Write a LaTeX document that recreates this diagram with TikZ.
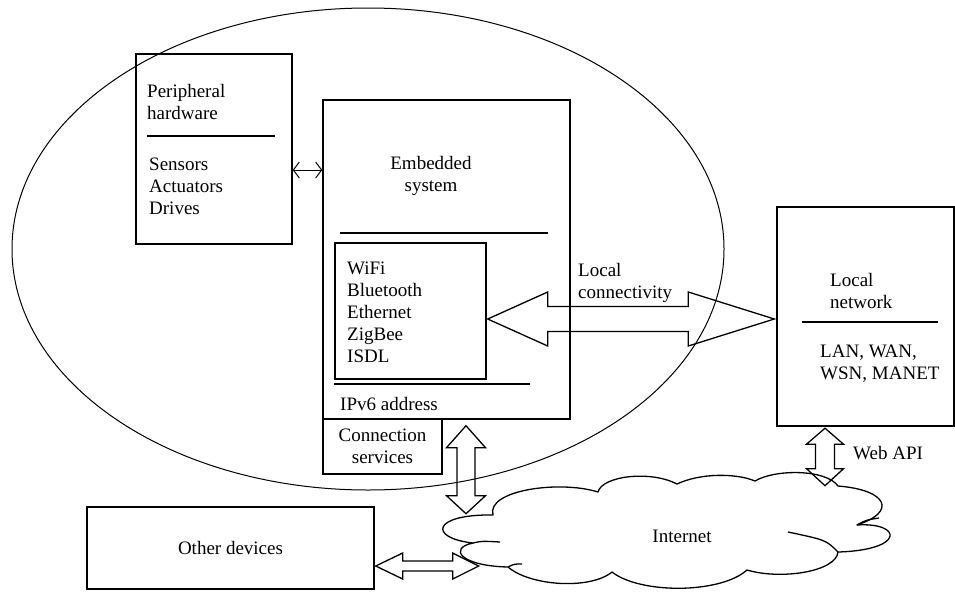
\documentclass[tikz,border=0pt]{standalone}
\usepackage{fontspec}
\setmainfont{Liberation Serif}
\usetikzlibrary{shapes.geometric,calc,arrows.meta}
\newcommand\dblH[6]{%
 \draw[blockarrow] (#1) -- ($(#1)+(#3,-#5)$) -- ($(#1)+(#3,-#6)$) -- ($(#2)+(-#4,-#6)$) -- ($(#2)+(-#4,-#5)$) -- (#2) -- ($(#2)+(-#4,#5)$) -- ($(#2)+(-#4,#6)$) -- ($(#1)+(#3,#6)$) -- ($(#1)+(#3,#5)$) -- cycle;}
\newcommand\dblV[6]{%
 \draw[blockarrow] (#1) -- ($(#1)+(#5,#3)$) -- ($(#1)+(#6,#3)$) -- ($(#2)+(#6,-#4)$) -- ($(#2)+(#5,-#4)$) -- (#2) -- ($(#2)+(-#5,-#4)$) -- ($(#2)+(-#6,-#4)$) -- ($(#1)+(-#6,#3)$) -- ($(#1)+(-#5,#3)$) -- cycle;}
\begin{document}
\begin{tikzpicture}[x=1pt,y=-1pt,
  every node/.style={font=\fontsize{19}{22}\selectfont, inner sep=0pt},
  box/.style={draw, line width=1.4pt, rectangle, inner sep=0pt},
  sep/.style={line width=1.4pt},
  blockarrow/.style={draw, line width=1.3pt, line join=miter},
  txt/.style={align=left, anchor=west}]
\useasboundingbox (0,0) rectangle (955,592);

% scope ellipse
\node[draw, ellipse, line width=1pt, minimum width=712, minimum height=482] (scope) at (368,249) {};

% boxes
\node[box, minimum width=156, minimum height=190] (periph) at (214,149) {};
\node[box, minimum width=247, minimum height=319] (emb) at (446.5,259.5) {};
\node[box, minimum width=151, minimum height=136] (inner) at (410.5,311) {};
\node[box, minimum width=119, minimum height=55] (conn) at (382.5,446.5) {};
\node[box, minimum width=177, minimum height=219] (lnet) at (865.5,316.5) {};
\node[box, minimum width=287, minimum height=82] (other) at (230.5,548) {};

% separators
\draw[sep] (147,136) -- (275,136);
\draw[sep] (340,233) -- (548,233);
\draw[sep] (334,384) -- (530,384);
\draw[sep] (802,322) -- (938,322);

% texts
\node[txt] (tper) at (147,102) {Peripheral\\hardware};
\node[txt] (tsens) at (149,186) {Sensors\\Actuators\\Drives};
\node[align=center] (temb) at (431,176) {Embedded\\system};
\node[txt] (tlist) at (347,312) {WiFi\\Bluetooth\\Ethernet\\ZigBee\\ISDL};
\node[txt] (tipv) at (340,404) {IPv6 address};
\node[align=center] (tconn) at (conn) {Connection\\services};
\node[txt] (tloc) at (578,282.5) {Local\\connectivity};
\node[txt] (tln) at (830,290.5) {Local\\network};
\node[txt] (tlan) at (820,364) {LAN, WAN,\\WSN, MANET};
\node[txt] (tweb) at (853,453) {Web API};
\node (tother) at (other) {Other devices};

% cloud
\draw[line width=1.3pt, fill=white, line join=round]
  (493,515) .. controls (486,490) and (560,480) .. (598,492)
  .. controls (602,476) and (650,470) .. (677,484)
  .. controls (700,473) and (736,473) .. (755,481)
  .. controls (775,469) and (826,469) .. (838,486)
  .. controls (888,490) and (897,512) .. (857,525)
  .. controls (902,522) and (906,550) .. (838,552)
  .. controls (836,572) and (780,580) .. (747,570)
  .. controls (720,594) and (640,594) .. (612,572)
  .. controls (590,590) and (530,586) .. (508,567)
  .. controls (460,566) and (448,548) .. (473,543)
  .. controls (428,538) and (432,514) .. (493,515) -- cycle;
\draw[line width=1.3pt] (473,543) .. controls (482,541) .. (500,542);
\draw[line width=1.3pt] (508,567) .. controls (514,564) .. (522,564);
\draw[line width=1.3pt] (838,552) .. controls (826,540) .. (788,532);
\draw[line width=1.3pt] (857,525) .. controls (866,520) .. (879,518);
\node (internet) at (682,536) {Internet};

% thin arrow periph <-> embedded
\draw[line width=1pt, {Straight Barb[length=6pt,width=16pt]}-{Straight Barb[length=6pt,width=16pt]}] (periph.east |- 0,170) -- (emb.west |- 0,170);

% block arrows
\coordinate (lcL) at ($(inner.east)+(1,8)$);
\coordinate (lcR) at ($(lnet.west)+(-2,2.5)$);
\dblH{lcL}{lcR}{60}{86}{27}{12.5}

\coordinate (ecT) at ($(emb.south)+(19.5,6)$);
\coordinate (ecB) at ($(emb.south)+(19.5,94)$);
\dblV{ecT}{ecB}{22}{18}{19.5}{9}

\coordinate (wT) at ($(lnet.south)+(-40.5,1.5)$);
\coordinate (wB) at ($(lnet.south)+(-40.5,59)$);
\dblV{wT}{wB}{16}{17}{18.5}{9.5}

\coordinate (oL) at ($(other.east)+(1,18)$);
\coordinate (oR) at ($(other.east)+(104,18)$);
\dblH{oL}{oR}{27}{26}{13}{5}
\end{tikzpicture}
\end{document}
